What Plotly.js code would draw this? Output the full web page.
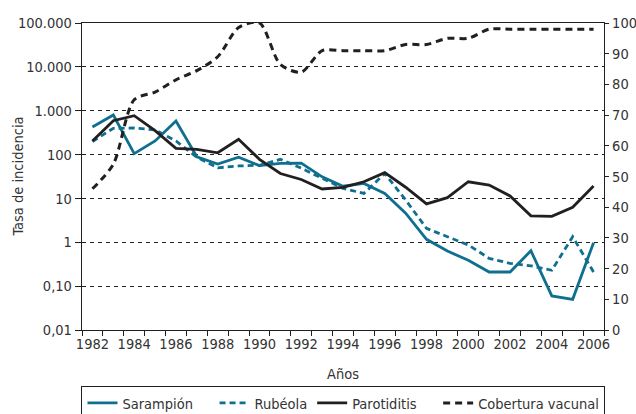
<!DOCTYPE html>
<html><head><meta charset="utf-8">
<script src="https://cdn.plot.ly/plotly-3.0.1.min.js"></script>
<style>html,body{margin:0;padding:0;background:#fff}#chart{width:636px;height:414px}</style>
</head><body><div id="chart"></div>
<script>
const years = [1982,1983,1984,1985,1986,1987,1988,1989,1990,1991,1992,1993,1994,1995,1996,1997,1998,1999,2000,2001,2002,2003,2004,2005,2006];
const sarampion = [425,800,105,205,580,89,61,87,56,63,64,31,19,22,13,4.6,1.17,0.63,0.39,0.21,0.21,0.64,0.06,0.05,0.98];
const rubeola = [199,397,403,365,204,87,50,55,57,78,49,29,17,13,37,9.2,2.08,1.34,0.87,0.43,0.33,0.29,0.23,1.34,0.21];
const parotiditis = [204,592,769,350,139,132,110,223,78,37,27,16.4,17.9,24,38.6,18,7.5,10.4,24,20.2,11.4,4.0,3.9,6.3,19.2];
const cobertura = [46,54,75,77.5,81.5,84.5,89,98.5,100,86.5,84,91,91,91,91,93,93,95,95,98,98,98,98,98,98];
const seriesNames = ['Sarampión','Rubéola','Parotiditis','Cobertura vacunal'];
const leftTickVals = [0.01,0.1,1,10,100,1000,10000,100000];
const leftTickText = ['0,01','0,10','1','10','100','1.000','10.000','100.000'];
const xTickVals = [1982,1984,1986,1988,1990,1992,1994,1996,1998,2000,2002,2004,2006];
const rightTickVals = [0,10,20,30,40,50,60,70,80,90,100];

const TEAL = '#0f6f8f', BLACK = '#231f20', TXT = '#333333';
const FONT = '"DejaVu Sans Condensed","Liberation Sans Narrow","Arial Narrow",sans-serif';
const FS = 14.5;
const boundaries = years.map(y => y - 0.5).concat([years[years.length-1] + 0.5]);
// spacing after legend labels (non-breaking spaces) to spread the entries like the reference
const pad = n => '\u00a0'.repeat(n);

const traces = [
  {x: years, y: sarampion, name: seriesNames[0] + pad(4), mode: 'lines', line: {color: TEAL, width: 2.8}},
  {x: years, y: rubeola, name: seriesNames[1], mode: 'lines', line: {color: TEAL, width: 2.8, dash: '6px,4px'}},
  {x: years, y: parotiditis, name: seriesNames[2] + pad(4), mode: 'lines', line: {color: BLACK, width: 2.8}},
  {x: years, y: cobertura, name: seriesNames[3], mode: 'lines', yaxis: 'y2', line: {color: BLACK, width: 3, dash: '7px,5px', shape: 'spline', smoothing: 0.8}}
];

const layout = {
  width: 636, height: 414,
  margin: {l: 82, r: 32, t: 23, b: 84, autoexpand: false},
  paper_bgcolor: '#fff', plot_bgcolor: '#fff',
  font: {family: FONT, size: FS, color: TXT},
  showlegend: true,
  legend: {orientation: 'h', x: -0.001, xanchor: 'left', y: (330 - 386) / 307, yanchor: 'top',
    bordercolor: BLACK, borderwidth: 1, font: {family: FONT, size: FS, color: TXT},
    itemwidth: 30, traceorder: 'normal'},
  xaxis: {
    range: [1981.5, 2006.5], tickmode: 'array', tickvals: xTickVals, ticks: '',
    showgrid: false, zeroline: false, showline: true, linecolor: BLACK, linewidth: 1.2, mirror: true,
    tickfont: {family: FONT, size: FS, color: TXT},
    minor: {tickmode: 'array', tickvals: boundaries, ticks: 'outside', ticklen: 5, tickcolor: BLACK, tickwidth: 1, showgrid: false},
    title: {text: 'Años', font: {family: FONT, size: FS, color: TXT}, standoff: 18}
  },
  yaxis: {
    type: 'log', range: [-2, 5], tickmode: 'array', tickvals: leftTickVals, ticktext: leftTickText,
    ticks: 'outside', ticklen: 6, tickcolor: BLACK, showline: true, linecolor: BLACK, linewidth: 1.2,
    showgrid: true, gridcolor: BLACK, gridwidth: 1, griddash: '4px,4px', zeroline: false,
    tickfont: {family: FONT, size: FS, color: TXT}
  },
  yaxis2: {
    overlaying: 'y', side: 'right', range: [0, 100], tickmode: 'array', tickvals: rightTickVals,
    ticks: 'outside', ticklen: 4, tickcolor: BLACK, showline: true, linecolor: BLACK, linewidth: 1.2,
    showgrid: false, zeroline: false, tickfont: {family: FONT, size: FS, color: TXT}
  },
  annotations: [{
    text: 'Tasa de incidencia', xref: 'paper', yref: 'paper', x: -0.1245, y: 0.5,
    xanchor: 'center', yanchor: 'middle', textangle: -90, showarrow: false,
    font: {family: FONT, size: FS, color: TXT}
  }]
};

Plotly.newPlot('chart', traces, layout, {displayModeBar: false, staticPlot: true});
</script></body></html>
